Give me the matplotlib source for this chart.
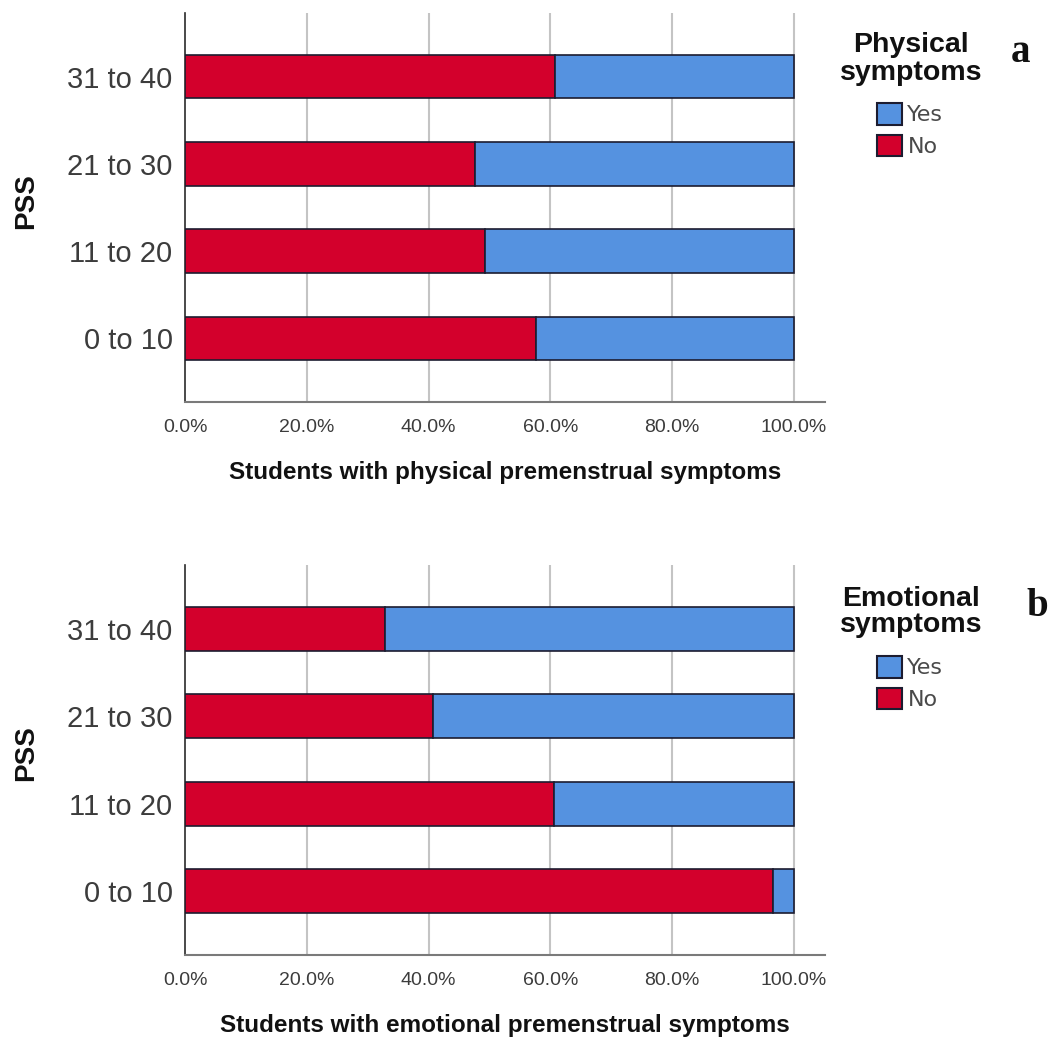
import matplotlib
matplotlib.use("Agg")
import matplotlib.pyplot as plt
import numpy as np
from matplotlib.patches import Patch

plt.rcParams['font.family'] = ['Liberation Sans', 'DejaVu Sans']

# PSS score groups, bottom to top
pss_groups = ['0 to 10', '11 to 20', '21 to 30', '31 to 40']

# percentage of students per PSS group
physical_no = [57.6, 49.3, 47.6, 60.8]
physical_yes = [42.4, 50.7, 52.4, 39.2]
emotional_no = [96.5, 60.6, 40.7, 32.8]
emotional_yes = [3.5, 39.4, 59.3, 67.2]

x_ticks = [0, 20, 40, 60, 80, 100]

RED = '#D3002C'
BLUE = '#5592E0'
EDGE = '#1c1c30'
TICK_COL = '#3c3c3c'

W, H = 1051, 1041
fig = plt.figure(figsize=(W / 100, H / 100), dpi=100)


def px_rect(left, top, right, bottom):
    return [left / W, 1 - bottom / H, (right - left) / W, (bottom - top) / H]


def draw_panel(rect, no_vals, yes_vals, xlabel, title, letter, legend_top,
               letter_x):
    ax = fig.add_axes(rect)
    y = np.arange(len(pss_groups))
    ax.barh(y, no_vals, height=0.5, color=RED, edgecolor=EDGE,
            linewidth=1.2, zorder=3, label='No')
    ax.barh(y, yes_vals, left=no_vals, height=0.5, color=BLUE,
            edgecolor=EDGE, linewidth=1.2, zorder=3, label='Yes')

    ax.set_xlim(0, 105.1)
    ax.set_ylim(-0.73, 3.73)
    ax.set_yticks(y)
    ax.set_yticklabels(pss_groups, fontsize=21, color=TICK_COL)
    ax.set_xticks(x_ticks)
    ax.set_xticklabels(['%.1f%%' % v for v in x_ticks], fontsize=14,
                       color=TICK_COL)
    ax.tick_params(axis='y', length=0, pad=9)
    ax.tick_params(axis='x', length=0, pad=12)

    for v in x_ticks[1:]:
        ax.axvline(v, color='#c4c4c4', linewidth=1.5, zorder=1)

    for side in ('top', 'right'):
        ax.spines[side].set_visible(False)
    ax.spines['left'].set_color('#2a2a2a')
    ax.spines['left'].set_linewidth(1.2)
    ax.spines['bottom'].set_color('#7a7a7a')
    ax.spines['bottom'].set_linewidth(1.5)

    ax.set_xlabel(xlabel, fontsize=17.5, fontweight='bold', color='#111111')
    ax.xaxis.set_label_coords(0.5, -0.152)
    ax.set_ylabel('PSS', fontsize=20, fontweight='bold', color='#111111')
    ax.yaxis.set_label_coords(-0.228, 0.517)

    handles = [Patch(facecolor=BLUE, edgecolor=EDGE, linewidth=1.5),
               Patch(facecolor=RED, edgecolor=EDGE, linewidth=1.5)]
    leg = fig.legend(handles, ['Yes', 'No'], loc='upper left',
                     bbox_to_anchor=(877 / W, 1 - legend_top / H),
                     frameon=False, borderpad=0, borderaxespad=0,
                     handlelength=1.12, handleheight=1.12,
                     handletextpad=0.25, labelspacing=0.42,
                     prop={'family': 'DejaVu Sans', 'size': 16})
    for t in leg.get_texts():
        t.set_color('#4a4a4a')

    fig.text(911 / W, 1 - (legend_top - 44) / H, title, ha='center',
             va='center', fontsize=20.5, fontweight='bold',
             color='#111111', linespacing=1.05)
    fig.text(letter_x / W, 1 - (legend_top - 50) / H, letter, ha='center',
             va='center', fontsize=28, fontweight='bold',
             family='Liberation Serif', color='#111111')
    return ax


draw_panel(px_rect(185, 13, 825, 402), physical_no, physical_yes,
           'Students with physical premenstrual symptoms',
           'Physical\nsymptoms', 'a', 103, 1021)
draw_panel(px_rect(185, 565, 825, 955), emotional_no, emotional_yes,
           'Students with emotional premenstrual symptoms',
           'Emotional\nsymptoms', 'b', 656, 1037)

fig.savefig('out.png', dpi=100, facecolor='white')
